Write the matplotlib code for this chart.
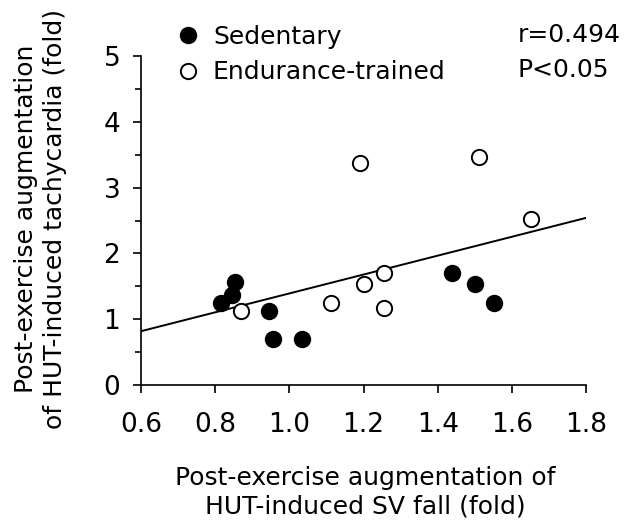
import matplotlib.pyplot as plt
from matplotlib.ticker import MultipleLocator

# Data
sed_x = [0.816, 0.845, 0.852, 0.946, 0.957, 1.033, 1.440, 1.501, 1.553]
sed_y = [1.24, 1.37, 1.57, 1.13, 0.70, 0.70, 1.70, 1.53, 1.24]
end_x = [0.869, 1.112, 1.190, 1.201, 1.254, 1.254, 1.512, 1.652]
end_y = [1.13, 1.24, 3.38, 1.53, 1.70, 1.17, 3.47, 2.52]
fit_slope = 1.433
fit_intercept = -0.04
x_ticks = [0.6, 0.8, 1.0, 1.2, 1.4, 1.6, 1.8]
y_ticks = [0, 1, 2, 3, 4, 5]

plt.rcParams['font.family'] = 'DejaVu Sans'
plt.rcParams['font.size'] = 18

fig = plt.figure(figsize=(6.3, 5.32), dpi=100)
ax = fig.add_axes([0.224, 0.276, 0.706, 0.619])

# regression line
lx = [0.6, 1.8]
ly = [fit_slope * v + fit_intercept for v in lx]
ax.plot(lx, ly, color='black', lw=1.4, zorder=1)

ax.plot(sed_x, sed_y, 'o', ms=11.5, mfc='black', mec='black', ls='none',
        label='Sedentary', zorder=3)
ax.plot(end_x, end_y, 'o', ms=11, mfc='white', mec='black', mew=1.4,
        ls='none', label='Endurance-trained', zorder=3)

ax.set_xlim(0.6, 1.8)
ax.set_ylim(0, 5)
ax.set_xticks(x_ticks)
ax.set_xticklabels([f'{v:.1f}' for v in x_ticks])
ax.set_yticks(y_ticks)
ax.yaxis.set_minor_locator(MultipleLocator(0.5))
ax.spines['top'].set_visible(False)
ax.spines['right'].set_visible(False)
for s in ['left', 'bottom']:
    ax.spines[s].set_linewidth(1.2)
ax.tick_params(which='major', length=6, width=1.2, labelsize=19)
ax.tick_params(axis='x', pad=13)
ax.tick_params(axis='y', pad=9)
ax.tick_params(which='minor', length=4, width=1.2)

ax.set_xlabel('Post-exercise augmentation of\nHUT-induced SV fall (fold)',
              linespacing=1.25, va='top')
ax.xaxis.set_label_coords(0.503, -0.245)
ax.set_ylabel('Post-exercise augmentation\nof HUT-induced tachycardia (fold)',
              linespacing=1.25, va='center')
ax.yaxis.set_label_coords(-0.226, 0.505)

fig.legend(loc='upper left', bbox_to_anchor=(0.2746, 0.953), frameon=False,
           handletextpad=0.4, labelspacing=0.45, handlelength=1.2,
           borderpad=0, borderaxespad=0)
fig.text(0.822, 0.934, 'r=0.494', ha='left', va='center')
fig.text(0.822, 0.868, 'P<0.05', ha='left', va='center')

plt.savefig('out.png', dpi=100)
